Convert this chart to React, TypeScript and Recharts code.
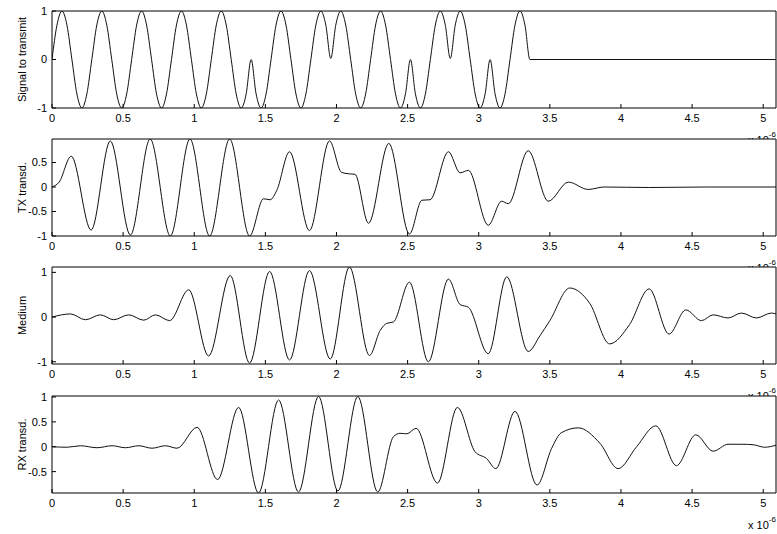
import React from 'react';
import { CartesianGrid, Line, LineChart, XAxis, YAxis } from 'recharts';

// time axis in microseconds (labels carry the "x 10^-6" factor)
const X_MAX = 5.09;
const xTicks = [0, 0.5, 1, 1.5, 2, 2.5, 3, 3.5, 4, 4.5, 5];

const signalTicks = [-1, 0, 1];
const txTicks = [-1, -0.5, 0, 0.5];
const mediumTicks = [-1, 0, 1];
const rxTicks = [-0.5, 0, 0.5, 1];

// [time, amplitude]
const signalToTransmit: [number, number][] = [
  [0, 0], [0.035, 0.71], [0.07, 1], [0.105, 0.71], [0.14, 0],
  [0.175, -0.71], [0.21, -1], [0.245, -0.71], [0.28, 0],
  [0.315, 0.71], [0.35, 1], [0.385, 0.71], [0.42, 0],
  [0.455, -0.71], [0.49, -1], [0.525, -0.71], [0.56, 0],
  [0.595, 0.71], [0.63, 1], [0.665, 0.71], [0.7, 0],
  [0.735, -0.71], [0.77, -1], [0.805, -0.71], [0.84, 0],
  [0.875, 0.71], [0.91, 1], [0.945, 0.71], [0.98, 0],
  [1.015, -0.71], [1.05, -1], [1.085, -0.71], [1.12, 0],
  [1.155, 0.71], [1.19, 1], [1.225, 0.71], [1.26, 0],
  [1.295, -0.71], [1.33, -1], [1.365, -0.71], [1.4, 0],
  [1.435, -0.71], [1.47, -1], [1.505, -0.71], [1.54, 0],
  [1.575, 0.71], [1.61, 1], [1.645, 0.71], [1.68, 0],
  [1.715, -0.71], [1.75, -1], [1.785, -0.71], [1.82, 0],
  [1.855, 0.71], [1.89, 1], [1.925, 0.71], [1.96, 0.02],
  [1.995, 0.71], [2.03, 1], [2.065, 0.71], [2.1, 0],
  [2.135, -0.71], [2.17, -1], [2.205, -0.71], [2.24, 0],
  [2.275, 0.71], [2.31, 1], [2.345, 0.71], [2.38, 0],
  [2.415, -0.71], [2.45, -1], [2.485, -0.71], [2.52, 0],
  [2.555, -0.71], [2.59, -1], [2.625, -0.71], [2.66, 0],
  [2.695, 0.71], [2.73, 1], [2.765, 0.71], [2.8, 0.02],
  [2.835, 0.71], [2.87, 1], [2.905, 0.71], [2.94, 0],
  [2.975, -0.71], [3.01, -1], [3.045, -0.71], [3.08, 0],
  [3.115, -0.71], [3.15, -1], [3.185, -0.71], [3.22, 0],
  [3.255, 0.71], [3.29, 1], [3.325, 0.71], [3.36, 0],
  [5.09, 0],
];

const txTransducer: [number, number][] = [
  [0, 0], [0.05, 0.1], [0.135, 0.63], [0.275, -0.88], [0.41, 0.94],
  [0.551, -0.98], [0.69, 0.98], [0.832, -1], [0.97, 0.98], [1.108, -1],
  [1.249, 0.98], [1.389, -1], [1.487, -0.24], [1.534, -0.26], [1.58, -0.07],
  [1.67, 0.72], [1.81, -0.89], [1.951, 0.94], [2.035, 0.3], [2.085, 0.27],
  [2.13, 0.26], [2.225, -0.74], [2.368, 0.89], [2.513, -0.96], [2.6, -0.27],
  [2.658, -0.26], [2.787, 0.72], [2.869, 0.29], [2.927, 0.34], [3.067, -0.78],
  [3.161, -0.29], [3.208, -0.34], [3.348, 0.74], [3.489, -0.29], [3.63, 0.1],
  [3.77, -0.05], [3.88, 0], [4.2, -0.01], [4.6, 0], [5.09, 0],
];

const medium: [number, number][] = [
  [0, 0], [0.13, 0.07], [0.235, -0.06], [0.34, 0.05], [0.434, -0.06],
  [0.539, 0.05], [0.645, -0.07], [0.727, 0.05], [0.827, -0.08], [0.961, 0.61],
  [1.101, -0.87], [1.253, 0.93], [1.389, -1.03], [1.53, 1.02], [1.67, -0.96],
  [1.81, 1.04], [1.956, -0.94], [2.091, 1.12], [2.232, -0.86], [2.307, -0.3],
  [2.354, -0.14], [2.4, -0.11], [2.513, 0.78], [2.646, -1], [2.787, 0.85],
  [2.869, 0.28], [2.927, 0.22], [3.067, -0.82], [3.197, 0.9], [3.348, -0.77],
  [3.43, -0.42], [3.5, -0.08], [3.64, 0.65], [3.78, 0.31], [3.92, -0.6],
  [4.06, -0.17], [4.198, 0.63], [4.338, -0.38], [4.456, 0.16], [4.566, -0.08],
  [4.648, 0.05], [4.753, -0.02], [4.847, 0.09], [4.952, -0.02], [5.058, 0.09],
  [5.09, 0.07],
];

const rxTransducer: [number, number][] = [
  [0, 0], [0.107, -0.01], [0.2, 0.02], [0.317, -0.02], [0.423, 0.02],
  [0.516, -0.02], [0.61, 0.02], [0.703, -0.03], [0.797, 0.02], [0.879, -0.03],
  [1.02, 0.39], [1.164, -0.66], [1.312, 0.79], [1.452, -0.93], [1.593, 0.94],
  [1.733, -0.91], [1.874, 1.01], [2.01, -0.89], [2.15, 1.01], [2.29, -0.91],
  [2.4, 0.2], [2.447, 0.27], [2.494, 0.26], [2.56, 0.37], [2.71, -0.73],
  [2.85, 0.79], [2.974, -0.1], [3.056, -0.24], [3.12, -0.44], [3.255, 0.71],
  [3.41, -0.77], [3.513, -0.03], [3.58, 0.28], [3.7, 0.38], [3.852, 0.07],
  [3.98, -0.44], [4.11, 0], [4.245, 0.42], [4.39, -0.38], [4.526, 0.24],
  [4.648, -0.09], [4.753, 0.05], [4.85, 0.05], [4.93, 0.04], [5.01, -0.01],
  [5.09, 0.03],
];

const TICK_STYLE = { fill: '#000', fontSize: 11 };

function YLabel({ text, x }: { text: string; x: number }) {
  const cy = 59.5;
  return (
    <text
      x={x}
      y={cy}
      transform={`rotate(-90 ${x} ${cy})`}
      textAnchor="middle"
      fontSize={11}
      fill="#000"
    >
      {text}
    </text>
  );
}

function PowerLabel() {
  return (
    <text x={748} y={144} fontSize={11} fill="#000">
      x 10
      <tspan dy={-7} fontSize={8}>-6</tspan>
    </text>
  );
}

interface PanelProps {
  top: number;
  points: [number, number][];
  domain: [number, number];
  yTicks: number[];
  label: string;
  labelX: number;
}

function Panel({ top, points, domain, yTicks, label, labelX }: PanelProps) {
  const rows = points.map(([t, v]) => ({ t, v }));
  return (
    <div style={{ position: 'absolute', left: 0, top, width: 777, height: 160 }}>
      <LineChart
        width={777}
        height={160}
        data={rows}
        margin={{ top: 10, right: 0, bottom: 22, left: 0 }}
      >
        <CartesianGrid horizontal={false} vertical={false} fill="#fff" />
        <XAxis
          dataKey="t"
          type="number"
          domain={[0, X_MAX]}
          ticks={xTicks}
          interval={0}
          allowDataOverflow
          height={30}
          tickSize={-4}
          tickMargin={10}
          stroke="#000"
          tick={TICK_STYLE}
          label={<PowerLabel />}
        />
        <XAxis
          xAxisId="top"
          orientation="top"
          dataKey="t"
          type="number"
          domain={[0, X_MAX]}
          ticks={xTicks}
          interval={0}
          allowDataOverflow
          height={1}
          tickSize={-4}
          tick={false}
          stroke="#000"
        />
        <YAxis
          type="number"
          domain={domain}
          ticks={yTicks}
          interval={0}
          allowDataOverflow
          width={52}
          tickSize={-4}
          tickMargin={9}
          stroke="#000"
          tick={TICK_STYLE}
          label={<YLabel text={label} x={labelX} />}
        />
        <YAxis
          yAxisId="right"
          orientation="right"
          type="number"
          domain={domain}
          ticks={yTicks}
          interval={0}
          allowDataOverflow
          width={1}
          tickSize={-4}
          tick={false}
          stroke="#000"
        />
        <Line
          dataKey="v"
          type="monotone"
          stroke="#111"
          strokeWidth={1}
          dot={false}
          activeDot={false}
          isAnimationActive={false}
        />
      </LineChart>
    </div>
  );
}

export default function App() {
  return (
    <div
      style={{
        position: 'absolute',
        left: 0,
        top: 0,
        width: 777,
        height: 534,
        overflow: 'hidden',
        background: '#fff',
        fontFamily: '"Liberation Sans", Arial, Helvetica, sans-serif',
      }}
    >
      <Panel top={0} points={signalToTransmit} domain={[-1, 1]} yTicks={signalTicks}
        label="Signal to transmit" labelX={30} />
      <Panel top={128} points={txTransducer} domain={[-1, 0.98]} yTicks={txTicks}
        label="TX transd." labelX={20.5} />
      <Panel top={256} points={medium} domain={[-1.05, 1.12]} yTicks={mediumTicks}
        label="Medium" labelX={31} />
      <Panel top={385} points={rxTransducer} domain={[-0.93, 1.02]} yTicks={rxTicks}
        label="RX transd." labelX={20.5} />
    </div>
  );
}
